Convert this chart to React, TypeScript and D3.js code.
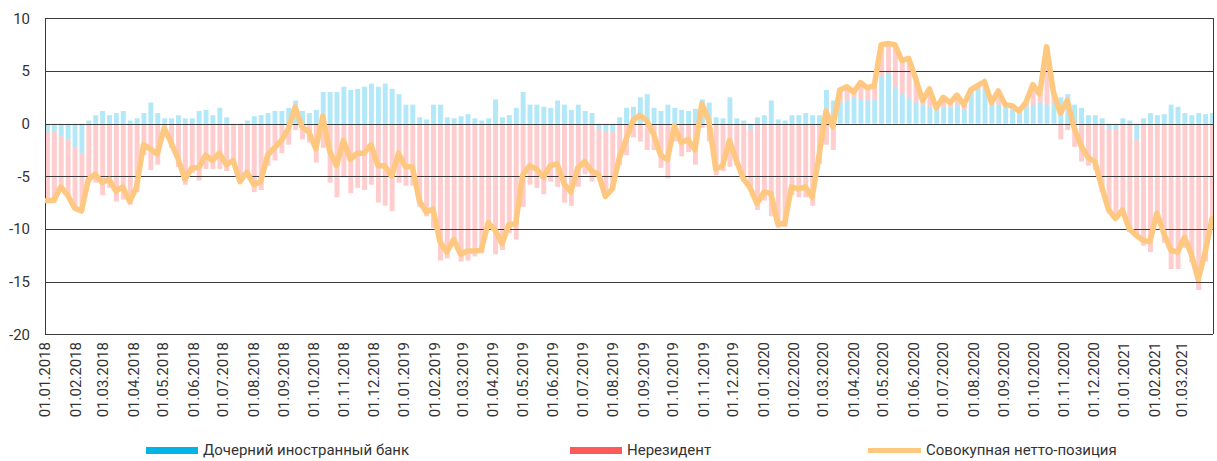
import React from "react";
import * as d3 from "d3";

// weekly readings, Monday-based, 01.01.2018 .. 29.03.2021
const startDate = new Date(2018, 0, 1);
const endDate = new Date(2021, 3, 1);
const weeks = d3.timeMonday.range(startDate, new Date(2021, 2, 30));

// Дочерний иностранный банк
const subsidiaryBank = [
  -0.8, -0.8, -1.2, -1.5, -2.2, -2.8, 0.3, 0.8, 1.2, 0.8,
  1.0, 1.2, 0.3, 0.5, 1.0, 2.0, 1.0, 0.5, 0.5, 0.8,
  0.5, 0.5, 1.2, 1.3, 0.8, 1.5, 0.6, -0.2, -0.2, 0.3,
  0.7, 0.8, 1.0, 1.2, 1.2, 1.5, 2.2, 1.2, 1.0, 1.3,
  3.0, 3.0, 3.0, 3.5, 3.2, 3.3, 3.5, 3.8, 3.5, 3.8,
  3.3, 2.8, 1.8, 1.8, 0.6, 0.4, 1.8, 1.8, 0.6, 0.5,
  0.7, 0.9, 0.5, 0.3, 0.5, 2.3, 0.6, 0.8, 1.5, 3.0,
  1.8, 1.8, 1.6, 1.5, 2.2, 1.8, 1.3, 1.8, 1.2, 1.0,
  -0.5, -0.8, -0.7, 0.6, 1.5, 1.6, 2.5, 2.8, 1.5, 1.2,
  1.8, 1.5, 1.3, 1.2, 1.4, 2.3, 2.0, 0.6, 0.5, 2.5,
  0.5, 0.3, -0.5, 0.6, 0.8, 2.2, 0.4, 0.3, 0.8, 0.8,
  1.0, 0.8, 0.8, 3.2, 2.2, 2.0, 2.2, 2.5, 2.3, 2.2,
  2.3, 4.5, 4.8, 3.5, 2.8, 2.4, 2.0, 1.8, 1.6, 1.5,
  1.6, 1.5, 1.8, 1.3, 3.0, 3.3, 3.2, 2.0, 1.8, 1.8,
  1.3, 1.2, 1.6, 1.8, 2.0, 1.8, 2.0, 2.5, 2.8, 1.8,
  1.5, 0.8, 0.8, 0.5, -0.6, -0.5, 0.5, 0.3, -1.5, 0.5,
  1.0, 0.8, 0.9, 1.8, 1.6, 1.0, 0.8, 1.0, 0.9, 1.0,
];

// Нерезидент
const nonResident = [
  -6.5, -6.5, -4.8, -5.3, -5.8, -5.5, -5.6, -5.6, -6.8, -6.1,
  -7.4, -7.2, -7.7, -6.5, -3.0, -4.4, -3.9, -0.9, -2.3, -4.1,
  -5.8, -4.7, -5.4, -4.3, -4.3, -4.3, -4.5, -3.3, -5.3, -4.9,
  -6.5, -6.3, -4.0, -3.5, -2.8, -2.0, -0.6, -1.5, -1.8, -3.7,
  -2.3, -5.6, -7.0, -5.1, -6.6, -6.1, -6.3, -5.8, -7.5, -7.8,
  -8.3, -5.6, -5.9, -5.9, -7.9, -8.8, -9.9, -13.0, -12.8, -11.5,
  -13.1, -13.0, -12.6, -12.3, -9.9, -12.4, -12.0, -10.4, -11.0, -7.9,
  -5.8, -6.1, -6.7, -5.5, -6.0, -7.5, -7.8, -6.0, -4.8, -5.5,
  -4.3, -6.1, -5.5, -3.9, -3.0, -1.3, -1.7, -2.5, -2.5, -4.2,
  -5.2, -1.7, -3.1, -2.7, -3.9, -0.4, -1.7, -4.9, -4.5, -4.1,
  -4.0, -5.5, -5.6, -8.2, -7.3, -8.8, -9.9, -9.8, -6.8, -7.0,
  -7.0, -7.8, -3.8, -2.0, -2.5, 1.2, 1.3, 0.5, 1.6, 1.2,
  1.3, 3.0, 2.8, 4.0, 3.2, 3.8, 2.3, 0.4, 1.7, 0.0,
  0.9, 0.5, 0.9, 0.5, 0.2, 0.3, 0.8, 0.0, 1.3, 0.0,
  0.4, 0.0, 0.4, 1.9, 0.8, 5.5, 1.0, -1.5, -0.6, -2.2,
  -3.6, -4.0, -4.4, -6.5, -7.6, -8.5, -8.7, -10.3, -9.1, -11.6,
  -12.2, -9.3, -11.3, -13.8, -13.8, -11.8, -13.2, -15.8, -13.1, -9.5,
];

// Совокупная нетто-позиция
const netPosition = [
  -7.3, -7.3, -6.0, -6.8, -8.0, -8.3, -5.3, -4.8, -5.6, -5.3,
  -6.4, -6.0, -7.4, -6.0, -2.0, -2.4, -2.9, -0.4, -1.8, -3.3,
  -5.3, -4.2, -4.2, -3.0, -3.5, -2.8, -3.9, -3.5, -5.5, -4.6,
  -5.8, -5.5, -3.0, -2.3, -1.6, -0.5, 1.6, -0.3, -0.8, -2.4,
  0.7, -2.6, -4.0, -1.6, -3.4, -2.8, -2.8, -2.0, -4.0, -4.0,
  -5.0, -2.8, -4.1, -4.1, -7.3, -8.4, -8.1, -11.2, -12.2, -11.0,
  -12.4, -12.1, -12.1, -12.0, -9.4, -10.1, -11.4, -9.6, -9.5, -4.9,
  -4.0, -4.3, -5.1, -4.0, -3.8, -5.7, -6.5, -4.2, -3.6, -4.5,
  -4.8, -6.9, -6.2, -3.3, -1.5, 0.3, 0.8, 0.3, -1.0, -3.0,
  -3.4, -0.2, -1.8, -1.5, -2.5, 1.9, 0.3, -4.3, -4.0, -1.6,
  -3.5, -5.2, -6.1, -7.6, -6.5, -6.6, -9.5, -9.5, -6.0, -6.2,
  -6.0, -7.0, -3.0, 1.2, -0.3, 3.2, 3.5, 3.0, 3.9, 3.4,
  3.6, 7.5, 7.6, 7.5, 6.0, 6.2, 4.3, 2.2, 3.3, 1.5,
  2.5, 2.0, 2.7, 1.8, 3.2, 3.6, 4.0, 2.0, 3.1, 1.8,
  1.7, 1.2, 2.0, 3.7, 2.8, 7.3, 3.0, 1.0, 2.2, -0.4,
  -2.1, -3.2, -3.6, -6.0, -8.2, -9.0, -8.2, -10.0, -10.6, -11.1,
  -11.2, -8.5, -10.4, -12.0, -12.2, -10.8, -12.4, -14.8, -12.2, -9.0,
];

const yTicks = [10, 5, 0, -5, -10, -15, -20];
const monthTicks = d3.timeMonth.range(new Date(2018, 0, 1), new Date(2021, 2, 2));

const colors: Record<string, string> = {
  sub: "#00b4e6",
  non: "#ff5a5a",
  net: "#ffc880",
};

const font = "Roboto, 'Noto Sans', sans-serif";
const fmt = d3.timeFormat("%d.%m.%Y");

export default function App() {
  const width = 1217;
  const height = 461;
  const plot = { left: 45, right: 1213, top: 18.3, bottom: 334.3 };

  const x = d3.scaleTime().domain([startDate, endDate]).range([plot.left, plot.right]);
  const y = d3.scaleLinear().domain([-20, 10]).range([plot.bottom, plot.top]);

  const rows = weeks.map((d, i) => ({
    date: d,
    sub: subsidiaryBank[i],
    non: nonResident[i],
  }));
  const series = d3
    .stack<any>()
    .keys(["sub", "non"])
    .offset(d3.stackOffsetDiverging)(rows);

  const line = d3
    .line<any>()
    .x((d) => x(d3.timeDay.offset(d.date, 2)))
    .y((d) => y(d.v));
  const netData = weeks.map((d, i) => ({ date: d, v: netPosition[i] }));

  const crisp = (v: number) => Math.round(v) + 0.5;

  return (
    <svg
      width={width}
      height={height}
      style={{ position: "absolute", left: 0, top: 0, background: "#fff" }}
      fontFamily={font}
    >
      <defs>
        <clipPath id="plot-clip">
          <rect
            x={plot.left}
            y={plot.top}
            width={plot.right - plot.left}
            height={plot.bottom - plot.top}
          />
        </clipPath>
      </defs>

      <g clipPath="url(#plot-clip)">
        {series.map((s) => (
          <g key={s.key} fill={colors[s.key]} fillOpacity={0.3}>
            {s.map((d: any, i: number) => {
              const x0 = x(d.data.date);
              const x1 = x(d3.timeDay.offset(d.data.date, 5));
              const y0 = y(d[0]);
              const y1 = y(d[1]);
              return (
                <rect
                  key={i}
                  x={x0}
                  width={x1 - x0}
                  y={Math.min(y0, y1)}
                  height={Math.abs(y1 - y0)}
                />
              );
            })}
          </g>
        ))}
      </g>

      {/* grid + frame */}
      <g stroke="#3a3a3a" strokeWidth={1} shapeRendering="crispEdges">
        {yTicks.map((t) => (
          <line key={t} x1={plot.left} x2={plot.right} y1={crisp(y(t))} y2={crisp(y(t))} />
        ))}
        <line x1={crisp(plot.left)} x2={crisp(plot.left)} y1={y(10)} y2={y(-20)} />
        <line x1={crisp(plot.right)} x2={crisp(plot.right)} y1={y(10)} y2={y(-20)} />
      </g>

      <g clipPath="url(#plot-clip)">
        <path
          d={line(netData) || ""}
          fill="none"
          stroke={colors.net}
          strokeWidth={5.5}
          strokeLinejoin="round"
          strokeLinecap="round"
        />
      </g>

      {/* y labels */}
      <g fontSize={15} fill="#333" textAnchor="end">
        {yTicks.map((t) => (
          <text key={t} x={30} y={y(t)} dy="0.35em">
            {t}
          </text>
        ))}
      </g>

      {/* x labels */}
      <g fontSize={15} fill="#333" textAnchor="end">
        {monthTicks.map((d) => (
          <text
            key={+d}
            transform={`translate(${x(d) + 5},342) rotate(-90)`}
          >
            {fmt(d)}
          </text>
        ))}
      </g>

      {/* legend */}
      <g fontSize={15} fill="#333">
        <rect x={146} y={447} width={52} height={7} fill={colors.sub} />
        <text x={203} y={450} dy="0.35em">Дочерний иностранный банк</text>
        <rect x={570} y={447} width={52} height={7} fill={colors.non} />
        <text x={627} y={450} dy="0.35em">Нерезидент</text>
        <line x1={868} x2={921} y1={450.5} y2={450.5} stroke={colors.net} strokeWidth={5} />
        <text x={926} y={450} dy="0.35em">Совокупная нетто-позиция</text>
      </g>
    </svg>
  );
}
